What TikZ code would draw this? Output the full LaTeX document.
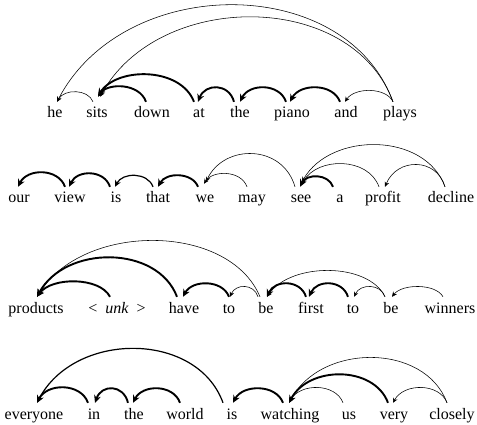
\documentclass[tikz,border=0pt]{standalone}
\usepackage{fontspec}
\setmainfont{Liberation Serif}
\usetikzlibrary{arrows.meta,calc}
\tikzset{
  w/.style={anchor=base, inner sep=0pt, text height=16pt, text depth=4pt, font=\fontsize{16}{18}\selectfont},
  dep/.style={line width=0.55pt, -{Stealth[length=5pt,width=4.6pt]}},
  depm/.style={line width=1.2pt, -{Stealth[length=6.5pt,width=6pt]}},
  depk/.style={line width=1.9pt, -{Stealth[length=7.5pt,width=7pt]}}
}
% #1 style, #2 source point, #3 target point, #4 control rise at source, #5 control rise at target
\newcommand\deparc[5][dep]{%
  \draw[#1] let \p1=(#2), \p2=(#3), \n1={0.14*(\x1-\x2)}, \n2={0.2*(\x1-\x2)} in
    (\p1) .. controls +(-\n1,-#4) and +(\n2,-#5) .. (\p2);}
\begin{document}
\begin{tikzpicture}[x=1pt,y=-1pt]
\useasboundingbox (0,0) rectangle (477,425);
% ---------- row 1 ----------
\node[w] (he)    at (55,118)  {he};
\node[w] (sits)  at (97,118)  {sits};
\node[w] (down)  at (152,118) {down};
\node[w] (at)    at (199,118) {at};
\node[w] (the1)  at (240,118) {the};
\node[w] (piano) at (292,118) {piano};
\node[w] (and)   at (346,118) {and};
\node[w] (plays) at (400,118) {plays};
\deparc{[xshift=-4pt]sits.north}{[xshift=2pt]he.north}{13}{13}
\deparc[depk]{[xshift=-6pt]down.north}{[xshift=1pt,yshift=5pt]sits.north}{19}{14}
\deparc[depk]{[xshift=-5pt]at.north}{[xshift=1pt,yshift=6pt]sits.north}{35}{29}
\deparc[depk]{[xshift=-6pt]the1.north}{[xshift=-1pt]at.north}{18.7}{18.7}
\deparc[depk]{[xshift=-6pt]piano.north}{[xshift=0pt]the1.north}{18.7}{18.7}
\deparc[depk]{[xshift=-6pt]and.north}{[xshift=-2pt]piano.north}{18.7}{18.7}
\deparc{[xshift=-7pt]plays.north}{[xshift=-1pt]and.north}{14.7}{14.7}
\deparc{[xshift=-7pt]plays.north}{[xshift=2pt]he.north}{129}{129}
\deparc{[xshift=-7pt]plays.north}{[xshift=3pt,yshift=5pt]sits.north}{112}{107}
% ---------- row 2 ----------
\node[w] (our)     at (19,203)  {our};
\node[w] (view)    at (70,203)  {view};
\node[w] (is1)     at (116,203) {is};
\node[w] (that)    at (158,203) {that};
\node[w] (we)      at (205,203) {we};
\node[w] (may)     at (252,203) {may};
\node[w] (see)     at (301,203) {see};
\node[w] (a)       at (340,203) {a};
\node[w] (profit)  at (383,203) {profit};
\node[w] (decline) at (451,203) {decline};
\deparc[depk]{[xshift=-5pt]view.north}{[xshift=-1pt]our.north}{18.7}{18.7}
\deparc[depk]{[xshift=-6pt]is1.north}{[xshift=-1pt]view.north}{17.3}{17.3}
\deparc[depm]{[xshift=-5pt]that.north}{[xshift=-1pt]is1.north}{14.7}{14.7}
\deparc[depk]{[xshift=-7pt]we.north}{[xshift=0pt]that.north}{14.7}{14.7}
\deparc{[xshift=-5pt]may.north}{[xshift=-1pt,yshift=3pt]we.north}{16.8}{13.8}
\deparc{[xshift=-6pt]see.north}{[xshift=1pt,yshift=5pt]we.north}{43}{38}
\deparc[depk]{[xshift=-7pt]a.north}{[xshift=-1pt]see.north}{13.3}{13.3}
\deparc{[xshift=-4pt]profit.north}{[xshift=1pt,yshift=3pt]see.north}{30}{27}
\deparc{[xshift=-6pt]decline.north}{[xshift=2pt]profit.north}{29.3}{29.3}
\deparc{[xshift=-6pt]decline.north}{[xshift=1pt,yshift=5pt]see.north}{55}{50}
% ---------- row 3 ----------
\node[w] (products) at (36,313)  {products};
\node[w] (unk)      at (117,313) {<\hspace{0.5em}\textit{unk}\hspace{0.5em}>};
\node[w] (have)     at (184,313) {have};
\node[w] (to1)      at (229,313) {to};
\node[w] (be1)      at (266,313) {be};
\node[w] (first)    at (311,313) {first};
\node[w] (to2)      at (353,313) {to};
\node[w] (be2)      at (391,313) {be};
\node[w] (winners)  at (450,313) {winners};
\deparc[depk]{[xshift=-7pt]unk.north}{[xshift=1pt]products.north}{20}{20}
\deparc[depk]{[xshift=-7pt]have.north}{[xshift=1pt]products.north}{52}{52}
\deparc{[xshift=-6pt]be1.north}{[xshift=1pt]products.north}{74.7}{74.7}
\deparc[depk]{[xshift=0pt]to1.north}{[xshift=-1pt]have.north}{17.3}{17.3}
\deparc{[xshift=-8pt]be1.north}{[xshift=1pt]to1.north}{13.3}{13.3}
\deparc[depk]{[xshift=-5pt]first.north}{[xshift=1pt]be1.north}{17.3}{17.3}
\deparc[depk]{[xshift=-5pt]to2.north}{[xshift=-2pt]first.north}{17.3}{17.3}
\deparc{[xshift=-6pt]be2.north}{[xshift=1pt]to2.north}{13.3}{13.3}
\deparc{[xshift=-6pt]be2.north}{[xshift=1pt]be1.north}{34.7}{34.7}
\deparc{[xshift=-7pt]winners.north}{[xshift=1pt]be2.north}{13.3}{13.3}
% ---------- row 4 ----------
\node[w] (everyone) at (34,419)  {everyone};
\node[w] (in)       at (94,419)  {in};
\node[w] (the2)     at (134,419) {the};
\node[w] (world)    at (185,419) {world};
\node[w] (is2)      at (232,419) {is};
\node[w] (watching) at (290,419) {watching};
\node[w] (us)       at (349,419) {us};
\node[w] (very)     at (394,419) {very};
\node[w] (closely)  at (452,419) {closely};
\deparc[depk]{[xshift=-6pt]in.north}{[xshift=3pt]everyone.north}{20}{20}
\deparc[depk]{[xshift=-6pt]the2.north}{[xshift=1pt]in.north}{18.7}{18.7}
\deparc[depk]{[xshift=-5pt]world.north}{[xshift=-1pt]the2.north}{18.7}{18.7}
\deparc[depm]{[xshift=-9pt]is2.north}{[xshift=3pt]everyone.north}{72}{72}
\deparc[depk]{[xshift=-7pt]watching.north}{[xshift=1pt]is2.north}{18.7}{18.7}
\deparc{[xshift=-6pt]us.north}{[xshift=-1pt]watching.north}{20}{20}
\deparc[depk]{[xshift=-6pt]very.north}{[xshift=-1pt]watching.north}{37.3}{37.3}
\deparc{[xshift=-5pt]closely.north}{[xshift=-1pt]very.north}{20}{20}
\deparc{[xshift=-5pt]closely.north}{[xshift=-1pt]watching.north}{60}{60}
\end{tikzpicture}
\end{document}
